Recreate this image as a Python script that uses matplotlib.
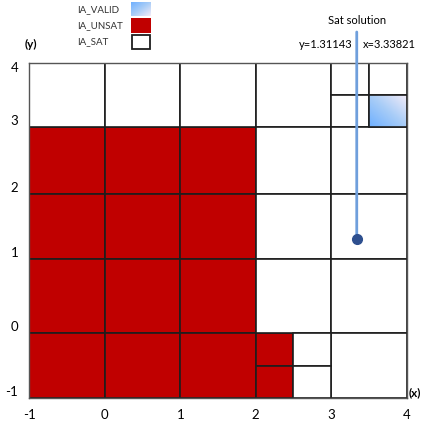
import numpy as np
import matplotlib
matplotlib.use("Agg")
import matplotlib.pyplot as plt
from matplotlib.patches import Rectangle
from matplotlib.colors import LinearSegmentedColormap
from matplotlib.transforms import ScaledTranslation

plt.rcParams['font.family'] = ['Lato', 'DejaVu Sans']

# boxes as (x0, x1, y0, y1)
unsat_x0 = [-1, 0, 1, -1, 0, 1, -1, 0, 1, -1, 0, 1, 2, 2]
unsat_x1 = [0, 1, 2, 0, 1, 2, 0, 1, 2, 0, 1, 2, 2.5, 2.5]
unsat_y0 = [2, 2, 2, 1, 1, 1, 0, 0, 0, -1, -1, -1, -0.5, -1]
unsat_y1 = [3, 3, 3, 2, 2, 2, 1, 1, 1, 0, 0, 0, 0, -0.5]

sat_x0 = [-1, 0, 1, 2, 3, 3.5, 3, 2, 3, 2, 3, 2, 3, 3, 2.5, 2.5]
sat_x1 = [0, 1, 2, 3, 3.5, 4, 3.5, 3, 4, 3, 4, 3, 4, 4, 3, 3]
sat_y0 = [3, 3, 3, 3, 3.5, 3.5, 3, 2, 2, 1, 1, 0, 0, -1, -0.5, -1]
sat_y1 = [4, 4, 4, 4, 4, 4, 3.5, 3, 3, 2, 2, 1, 1, 0, 0, -0.5]

valid_x0 = [3.5]
valid_x1 = [4]
valid_y0 = [3]
valid_y1 = [3.5]

sol_x = 3.33821
sol_y = 1.31143

x_ticks = [-1, 0, 1, 2, 3, 4]
y_ticks = [-1, 0, 1, 2, 3, 4]

# the rows of the drawing are not evenly spaced
row_pos = [-10, -1, 0, 1, 2, 3, 4, 10]
row_pix = [-603.9, 0, 65.6, 139.3, 204.3, 271.3, 335.6, 738.3]


def fwd(v):
    return np.interp(v, row_pos, row_pix)


def inv(p):
    return np.interp(p, row_pix, row_pos)


red = '#c00000'
edge = '#1e1e1e'
grad = LinearSegmentedColormap.from_list('valid', ['#6fb0ff', '#a9cdf7', '#f4ecf8'])

fig = plt.figure(figsize=(4.23, 4.24), dpi=100)
W, H = 423, 424
ax = fig.add_axes([29.3 / W, (H - 398.3) / H, (406.7 - 29.3) / W, (398.3 - 62.7) / H])
ax.set_yscale('function', functions=(fwd, inv))
ax.set_xlim(-1, 4)
ax.set_ylim(-1, 4)

for i in range(len(unsat_x0)):
    ax.add_patch(Rectangle((unsat_x0[i], unsat_y0[i]), unsat_x1[i] - unsat_x0[i],
                           unsat_y1[i] - unsat_y0[i], facecolor=red, edgecolor=edge, lw=1.2))
for i in range(len(sat_x0)):
    ax.add_patch(Rectangle((sat_x0[i], sat_y0[i]), sat_x1[i] - sat_x0[i],
                           sat_y1[i] - sat_y0[i], facecolor='white', edgecolor=edge, lw=1.2))

gy, gx = np.mgrid[0:1:60j, 0:1:60j]
g = (gx + gy) / 2
for i in range(len(valid_x0)):
    ax.imshow(g, cmap=grad, extent=(valid_x0[i], valid_x1[i], valid_y1[i], valid_y0[i]),
              aspect='auto', zorder=2, interpolation='bilinear')
    ax.add_patch(Rectangle((valid_x0[i], valid_y0[i]), valid_x1[i] - valid_x0[i],
                           valid_y1[i] - valid_y0[i], facecolor='none', edgecolor=edge,
                           lw=1.2, zorder=3))
ax.set_xlim(-1, 4)
ax.set_ylim(-1, 4)

for s in ax.spines.values():
    s.set_edgecolor('#555555')
    s.set_linewidth(1.0)

ax.set_xticks(x_ticks)
ax.set_yticks(y_ticks)
ax.set_xticklabels([str(t) for t in x_ticks], fontsize=9.5)
ax.set_yticklabels([str(t) for t in y_ticks], fontsize=9.5)
ax.tick_params(length=0, pad=8)
ax.yaxis.set_minor_locator(plt.NullLocator())
for lab in ax.get_yticklabels():
    dy = -4 if lab.get_text() == '4' else 7
    lab.set_transform(lab.get_transform() + ScaledTranslation(0, dy / 100, fig.dpi_scale_trans))

# solution marker
ax.annotate('', xy=(sol_x, sol_y), xycoords='data',
            xytext=(sol_x, 1.0915), textcoords=('data', 'axes fraction'),
            arrowprops=dict(arrowstyle='-', color='#6f9fdc', lw=2, shrinkA=0, shrinkB=0),
            annotation_clip=False, zorder=5)
ax.plot([sol_x], [sol_y], 'o', color='#2e4f8f', ms=7, zorder=6, clip_on=False)
bt = ax.get_xaxis_transform()
ax.text(sol_x, 1.127, 'Sat solution', transform=bt, ha='center', va='center', fontsize=8)
ax.text(sol_x - 0.05, 1.053, 'y=%.5f' % sol_y, transform=bt, ha='right', va='center', fontsize=8)
ax.text(sol_x + 0.085, 1.053, 'x=%.5f' % sol_x, transform=bt, ha='left', va='center', fontsize=8)

fig.text(31 / W, 1 - 44 / H, '(y)', ha='center', va='center', fontsize=8.5, fontweight='bold')
fig.text(409 / W, 1 - 393 / H, '(x)', ha='left', va='center', fontsize=8.5, fontweight='bold')

# legend
leg_names = ['IA_VALID', 'IA_UNSAT', 'IA_SAT']
leg_y = [10, 26, 42]
for name, yy in zip(leg_names, leg_y):
    fig.text(77 / W, 1 - yy / H, name, ha='left', va='center', fontsize=7, color='#333333')
lax = fig.add_axes([131 / W, 1 - 16 / H, 19.5 / W, 14 / H])
lax.imshow(g, cmap=grad, aspect='auto', interpolation='bilinear')
lax.axis('off')
fig.patches.append(Rectangle((131 / W, 1 - 33 / H), 19.5 / W, 15 / H, transform=fig.transFigure,
                             facecolor=red, edgecolor='none'))
fig.patches.append(Rectangle((132 / W, 1 - 49 / H), 17.5 / W, 14 / H, transform=fig.transFigure,
                             facecolor='white', edgecolor='#1e1e1e', lw=1.3))

fig.savefig('out.png', dpi=100)
